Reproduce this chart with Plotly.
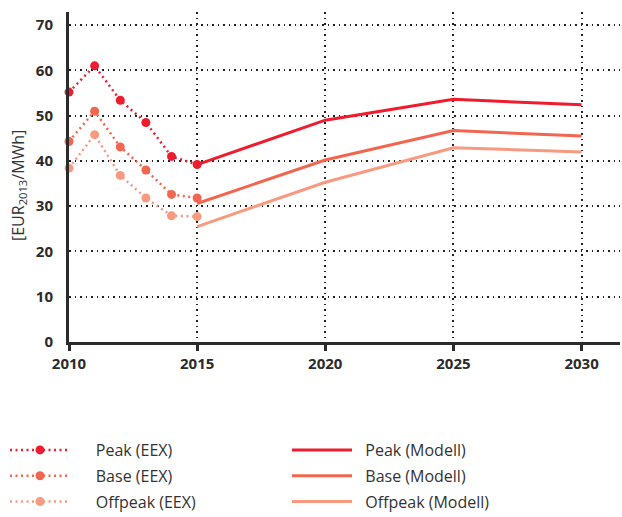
import plotly.graph_objects as go

years_eex = [2010, 2011, 2012, 2013, 2014, 2015]
peak_eex = [55.2, 61.0, 53.4, 48.5, 41.0, 39.2]
base_eex = [44.3, 51.0, 43.1, 38.0, 32.6, 31.8]
offpeak_eex = [38.4, 45.8, 36.8, 31.8, 27.9, 27.7]

years_mod = [2015, 2020, 2025, 2030]
peak_mod = [39.2, 49.0, 53.6, 52.4]
base_mod = [30.6, 40.2, 46.7, 45.5]
offpeak_mod = [25.5, 35.3, 42.9, 42.0]

x_ticks = [2010, 2015, 2020, 2025, 2030]
y_ticks = [0, 10, 20, 30, 40, 50, 60, 70]

c_peak = "#ee1c2e"
c_base = "#f26650"
c_off = "#f79a80"

pad_l = "\u00a0" * 5
pad_r = "\u00a0" * 2

W, H = 622, 517
L, R, T, B = 69, 2, 12, 175

fig = go.Figure()

for i, (name, ys, c) in enumerate([("Peak (EEX)", peak_eex, c_peak),
                                   ("Base (EEX)", base_eex, c_base),
                                   ("Offpeak (EEX)", offpeak_eex, c_off)]):
    fig.add_trace(go.Scatter(x=years_eex, y=ys, name=pad_l + name, mode="lines+markers",
                             line=dict(color=c, width=2.5, dash="2px,3.5px"),
                             marker=dict(color=c, size=9), legend="legend",
                             legendgroup="e%d" % i, cliponaxis=False))

for i, (name, ys, c) in enumerate([("Peak (Modell)", peak_mod, c_peak),
                                   ("Base (Modell)", base_mod, c_base),
                                   ("Offpeak (Modell)", offpeak_mod, c_off)]):
    fig.add_trace(go.Scatter(x=years_mod, y=ys, name=pad_r + name, mode="lines",
                             line=dict(color=c, width=3), legend="legend2",
                             legendgroup="m%d" % i))

axis_font = dict(family="Open Sans", size=15, color="#2b2b2b", weight="bold")
legend_font = dict(family="Open Sans", size=16, color="#333333")

plot_w = W - L - R
plot_h = H - T - B

grid = dict(showgrid=True, gridcolor="#222222", griddash="1.5px,4px", gridwidth=1.5)

fig.update_layout(
    width=W, height=H,
    margin=dict(l=L, r=R, t=T, b=B, autoexpand=False),
    plot_bgcolor="white", paper_bgcolor="white",
    xaxis=dict(range=[2010, 2031.5], tickvals=x_ticks, ticktext=[str(v) for v in x_ticks],
               **grid,
               showline=True, linecolor="#2b2b2b", linewidth=3,
               ticks="outside", ticklen=6, tickwidth=3, tickcolor="#2b2b2b",
               tickfont=axis_font, zeroline=False, tickangle=0),
    yaxis=dict(range=[0, 72.9], tickvals=y_ticks,
               **grid,
               showline=True, linecolor="#2b2b2b", linewidth=3,
               ticks="", ticklabelstandoff=10,
               tickfont=axis_font, zeroline=False),
    annotations=[dict(text="[EUR<sub>2013</sub>/MWh]", textangle=-90,
                      xref="paper", yref="paper",
                      x=(18 - L) / plot_w, y=(H - B - 186) / plot_h,
                      xanchor="center", yanchor="middle", showarrow=False,
                      font=dict(family="Open Sans", size=16, color="#333333"))],
    legend=dict(x=5 / W, xanchor="left", y=1 - 433 / H, yanchor="top", orientation="v",
                font=legend_font, tracegroupgap=2, itemwidth=60,
                xref="container", yref="container", bgcolor="rgba(0,0,0,0)"),
    legend2=dict(x=287 / W, xanchor="left", y=1 - 433 / H, yanchor="top", orientation="v",
                 font=legend_font, tracegroupgap=2, itemwidth=60,
                 xref="container", yref="container", bgcolor="rgba(0,0,0,0)"),
    showlegend=True,
)

fig.write_html("out.html", config={"displayModeBar": False},
               post_script="document.body.style.margin='0';")
